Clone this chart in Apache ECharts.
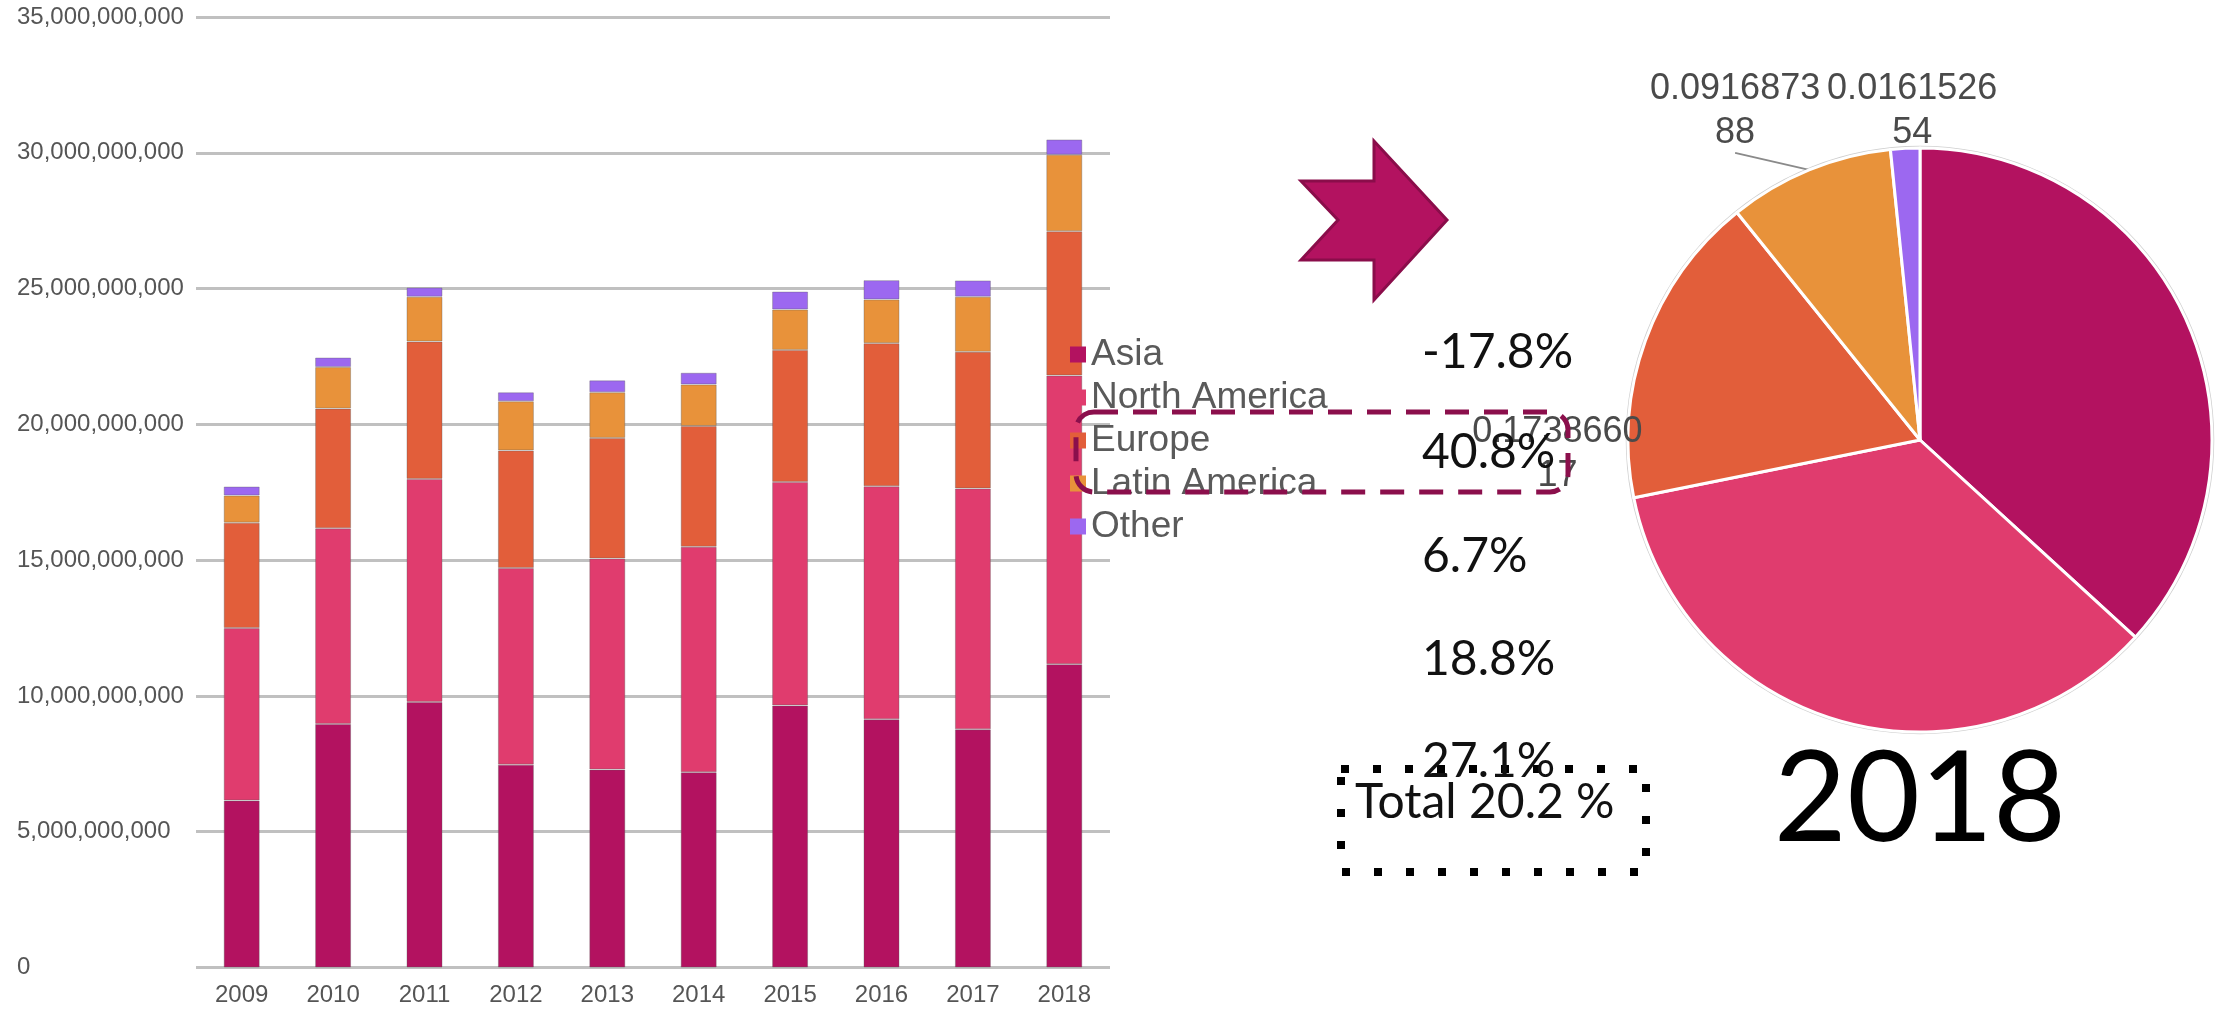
<!DOCTYPE html>
<html>
<head>
<meta charset="utf-8">
<script src="https://cdn.jsdelivr.net/npm/echarts@6/dist/echarts.min.js"></script>
<style>
  html, body { margin: 0; background: #fff; }
  #main { width: 2226px; height: 1010px; }
</style>
</head>
<body>
<div id="main"></div>
<script>
// stacked bars, one value per year
const years = ['2009', '2010', '2011', '2012', '2013', '2014', '2015', '2016', '2017', '2018'];
const regions = ['Asia', 'North America', 'Europe', 'Latin America', 'Other'];
const asia = [6.15e9, 8.97e9, 9.78e9, 7.47e9, 7.29e9, 7.19e9, 9.65e9, 9.14e9, 8.77e9, 11.17e9];
const northAmerica = [6.35e9, 7.20e9, 8.21e9, 7.24e9, 7.77e9, 8.30e9, 8.23e9, 8.58e9, 8.87e9, 10.63e9];
const europe = [3.88e9, 4.41e9, 5.06e9, 4.33e9, 4.44e9, 4.45e9, 4.86e9, 5.27e9, 5.03e9, 5.31e9];
const latinAmerica = [1.00e9, 1.53e9, 1.65e9, 1.81e9, 1.68e9, 1.53e9, 1.49e9, 1.61e9, 2.03e9, 2.82e9];
const other = [0.33e9, 0.35e9, 0.34e9, 0.33e9, 0.44e9, 0.43e9, 0.66e9, 0.71e9, 0.60e9, 0.56e9];

// 2018 pie shares
const pieShares = [0.368, 0.350294, 0.173866017, 0.091687388, 0.016152654];

// growth notes
const growthLabels = ['-17.8%', '40.8%', '6.7%', '18.8%', '27.1%'];
const totalLabel = 'Total 20.2 %';
const pieTitle = '2018';

const colors = ['#b31260', '#e03c6e', '#e25e3a', '#e8923a', '#9c68f0'];
const barData = [asia, northAmerica, europe, latinAmerica, other];

const chart = echarts.init(document.getElementById('main'));

const barSeries = regions.map(function (name, i) {
  return {
    name: name,
    type: 'bar',
    stack: 'total',
    barWidth: 36,
    data: barData[i],
    itemStyle: { color: colors[i], borderColor: 'rgba(90,90,90,0.35)', borderWidth: 1 }
  };
});

const pieData = regions.map(function (name, i) {
  return {
    name: name,
    value: pieShares[i],
    itemStyle: { color: colors[i] },
    label: { show: i >= 2 },
    labelLine: { show: i >= 2 }
  };
});

const textFont = 'Lato, "Open Sans", sans-serif';
const growthY = [353, 453, 557, 660, 762];
const growthText = growthLabels.map(function (t, i) {
  return {
    type: 'text', x: 1422, y: growthY[i], z: 100,
    style: { text: t, fontFamily: textFont, fontSize: 48, fill: '#111', verticalAlign: 'middle' }
  };
});

chart.setOption({
  animation: false,
  color: colors,
  grid: { left: 196, right: 1116, top: 17, bottom: 42.5 },
  legend: {
    data: regions,
    orient: 'vertical',
    left: 1065,
    top: 331,
    icon: 'rect',
    itemWidth: 16,
    itemHeight: 16,
    itemGap: 6,
    itemStyle: { borderWidth: 0 },
    textStyle: { fontFamily: 'Liberation Sans', fontSize: 37, lineHeight: 37, color: '#5a5a5a' }
  },
  xAxis: {
    type: 'category',
    data: years,
    axisLine: { show: false },
    axisTick: { show: false },
    axisLabel: { color: '#555', fontSize: 24, fontFamily: 'Liberation Sans', margin: 16 }
  },
  yAxis: {
    type: 'value',
    min: 0,
    max: 35e9,
    interval: 5e9,
    axisLine: { show: false },
    axisTick: { show: false },
    splitLine: { lineStyle: { color: '#c0c0c0', width: 3 } },
    axisLabel: {
      align: 'left',
      margin: 179,
      color: '#555',
      fontSize: 24,
      fontFamily: 'Liberation Sans',
      formatter: function (v) { return v.toLocaleString('en-US'); }
    }
  },
  series: barSeries.concat([{
    type: 'pie',
    center: [1920, 440],
    radius: 292,
    startAngle: 90,
    clockwise: true,
    avoidLabelOverlap: false,
    itemStyle: { borderColor: '#fff', borderWidth: 3 },
    label: {
      position: 'outside',
      color: '#4a4a4a',
      fontFamily: 'Liberation Sans',
      fontSize: 36,
      lineHeight: 44,
      align: 'center',
      formatter: function (p) {
        const s = String(p.value);
        return s.slice(0, 9) + '\n' + s.slice(9);
      }
    },
    labelLine: { lineStyle: { color: '#8a8a8a', width: 2 } },
    labelLayout: function (p) {
      const a = p.labelLinePoints ? p.labelLinePoints[0] : null;
      if (!a) return {};
      if (p.dataIndex === 2) {
        const e = [a[0] - 2, a[1] + 114];
        return { x: a[0] - 88, y: a[1] + 113, align: 'center', verticalAlign: 'middle', labelLinePoints: [a, e, e] };
      }
      if (p.dataIndex === 3) {
        const e = [a[0] - 74, a[1] - 17];
        return { x: a[0] - 74, y: a[1] - 59, align: 'center', verticalAlign: 'middle', labelLinePoints: [a, e, e] };
      }
      if (p.dataIndex === 4) {
        return { x: a[0] + 7, y: a[1] - 37, align: 'center', verticalAlign: 'middle', labelLinePoints: [a, a, a] };
      }
      return {};
    },
    data: pieData
  }]),
  graphic: [
    {
      type: 'circle', z: 1,
      shape: { cx: 1920, cy: 440, r: 293.5 },
      style: { fill: 'none', stroke: '#cfcfcf', lineWidth: 1.5 }
    },
    {
      type: 'polygon', z: 100,
      shape: { points: [[1301, 181], [1374, 181], [1374, 141], [1447, 220], [1374, 300], [1374, 260], [1301, 260], [1338, 220]] },
      style: { fill: '#b31260', stroke: '#8a0d4a', lineWidth: 3 }
    },
    {
      type: 'rect', z: 100,
      shape: { x: 1076, y: 412, width: 492, height: 80, r: 18 },
      style: { fill: 'none', stroke: '#8b0f4c', lineWidth: 5, lineDash: [24, 15] }
    },
    {
      type: 'rect', z: 100,
      shape: { x: 1341, y: 769, width: 305, height: 103 },
      style: { fill: 'none', stroke: '#000', lineWidth: 8, lineDash: [8, 24] }
    },
    {
      type: 'text', x: 1355, y: 803, z: 100,
      style: { text: totalLabel, fontFamily: textFont, fontSize: 48, fill: '#111', verticalAlign: 'middle' }
    },
    {
      type: 'text', x: 1920, y: 800, z: 100,
      style: { text: pieTitle, fontFamily: textFont, fontSize: 126, fill: '#000', align: 'center', verticalAlign: 'middle' }
    }
  ].concat(growthText)
});
</script>
</body>
</html>
